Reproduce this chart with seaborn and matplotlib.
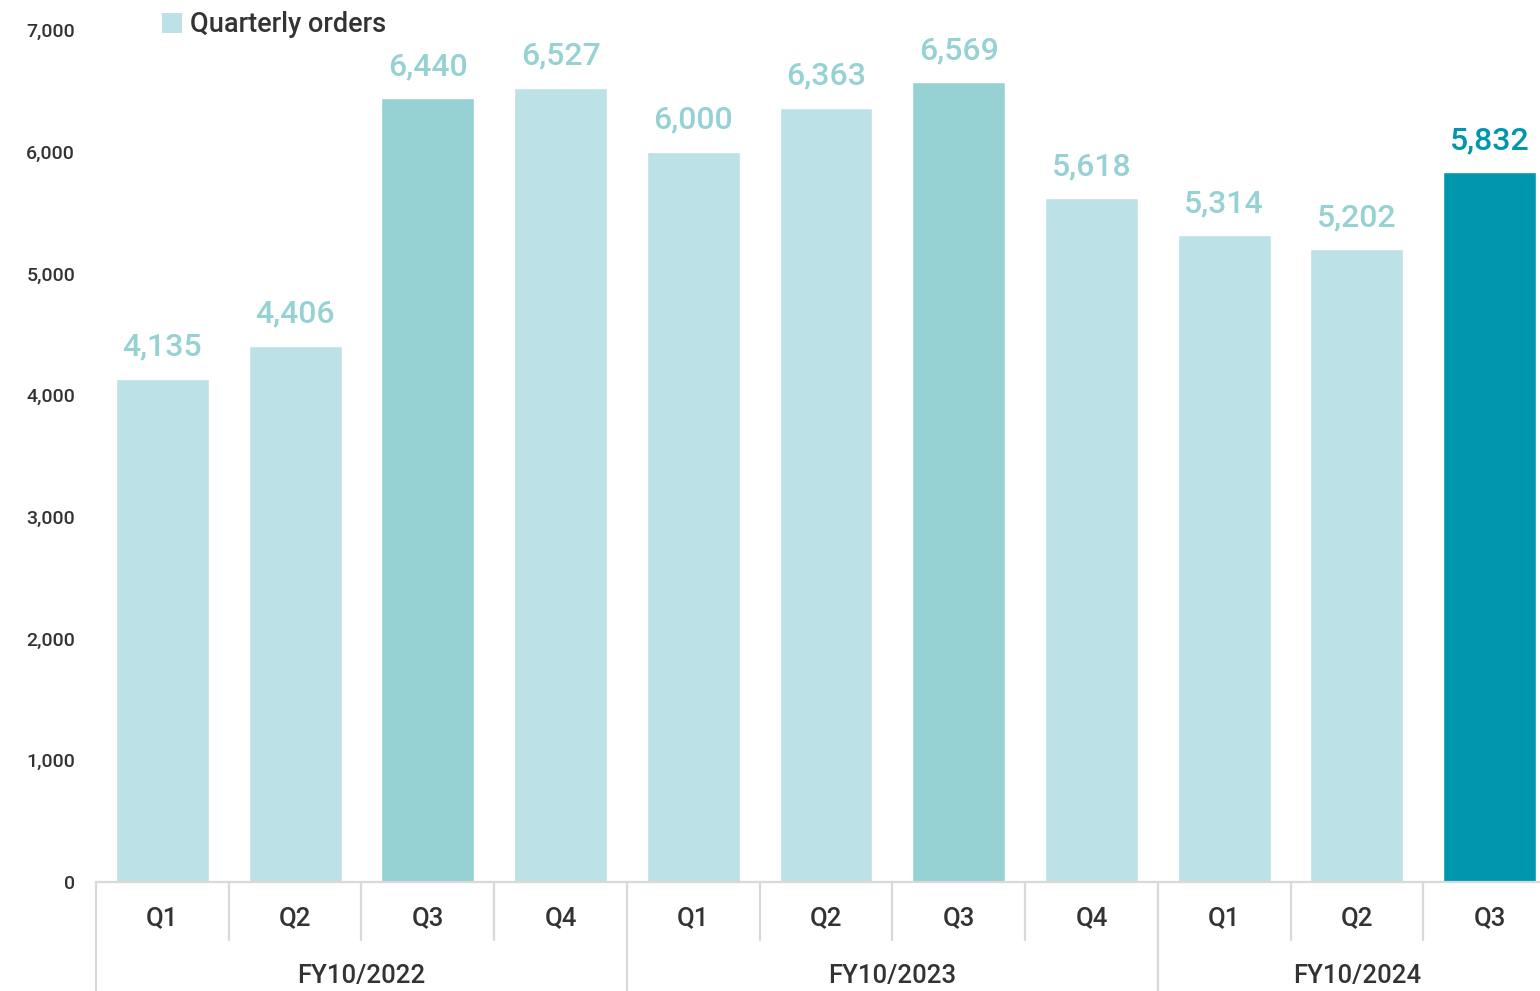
import matplotlib
matplotlib.use("Agg")
import matplotlib.pyplot as plt
import matplotlib.transforms as mtransforms
from matplotlib.patches import Patch
import seaborn as sns
import pandas as pd

# ---- data ----
fiscal_years = ["FY10/2022", "FY10/2023", "FY10/2024"]
quarters_per_year = [["Q1", "Q2", "Q3", "Q4"], ["Q1", "Q2", "Q3", "Q4"], ["Q1", "Q2", "Q3"]]
orders = [4135, 4406, 6440, 6527, 6000, 6363, 6569, 5618, 5314, 5202, 5832]
bar_kind = ["base", "base", "q3", "base", "base", "base", "q3", "base", "base", "base", "latest"]
legend_label = "Quarterly orders"
y_ticks = [0, 1000, 2000, 3000, 4000, 5000, 6000, 7000]

bar_colors = {"base": "#BCE1E7", "q3": "#96D1D3", "latest": "#0097AE"}
label_colors = {"base": "#96D1D3", "q3": "#96D1D3", "latest": "#0097AE"}

quarters = [q for qs in quarters_per_year for q in qs]
year_of = [fy for fy, qs in zip(fiscal_years, quarters_per_year) for _ in qs]
slot = [f"{fy} {q}" for fy, q in zip(year_of, quarters)]
df = pd.DataFrame({"slot": slot, "orders": orders, "kind": bar_kind})

sns.set_theme(style="white")
plt.rcParams["font.family"] = ["Lato", "DejaVu Sans"]
AX_FONT = ["Roboto", "DejaVu Sans"]

W, H = 1540, 991
fig = plt.figure(figsize=(W / 100, H / 100), dpi=100)
ax = fig.add_axes([96 / W, (H - 882) / H, (1556 - 96) / W, (882 - 30) / H])

sns.barplot(data=df, x="slot", y="orders", hue="kind", palette=bar_colors,
            dodge=False, legend=False, width=0.7, saturation=1, ax=ax)

ax.set_xlim(-0.5, len(orders) - 0.5)
ax.set_ylim(0, 7000)
ax.set_yticks(y_ticks)
ax.set_yticklabels([f"{v:,}" for v in y_ticks], color="#333333", fontsize=14,
                   fontweight="medium", family=AX_FONT)
ax.tick_params(axis="y", length=0, pad=15)
ax.set_xticks(range(len(quarters)))
ax.set_xticklabels(quarters, color="#333333", fontsize=18.5, fontweight="medium", family=AX_FONT)
ax.tick_params(axis="x", length=0, pad=17.5)
ax.set_xlabel("")
ax.set_ylabel("")
for s in ["left", "right", "top"]:
    ax.spines[s].set_visible(False)
ax.spines["bottom"].set_color("#D9D9D9")
ax.spines["bottom"].set_linewidth(1.6)
ax.grid(False)

# value labels
for i, (v, k) in enumerate(zip(orders, bar_kind)):
    ax.annotate(f"{v:,}", (i, v), xytext=(0, 16.5), textcoords="offset points",
                ha="center", va="baseline", fontsize=23, fontweight="medium",
                family=AX_FONT, color=label_colors[k])

# separators and group labels
trans = mtransforms.blended_transform_factory(ax.transData, ax.transAxes)
start = 0
group_edges = []
for fy, qs in zip(fiscal_years, quarters_per_year):
    n = len(qs)
    group_edges.append(start - 0.5)
    for j in range(1, n):
        xb = start + j - 0.5
        ax.plot([xb, xb], [0, -0.068], transform=trans, color="#D9D9D9", lw=1.6, clip_on=False)
    ax.text(start + (n - 1) / 2, -0.1105, fy, transform=trans, ha="center", va="center",
            fontsize=18.5, fontweight="medium", family=AX_FONT, color="#333333")
    start += n
group_edges.append(start - 0.5)
for xb in group_edges:
    ax.plot([xb, xb], [0, -0.14], transform=trans, color="#D9D9D9", lw=1.6, clip_on=False)

# legend
handle = Patch(facecolor=bar_colors["base"], edgecolor="none")
fig.legend([handle], [legend_label], loc="center left", bbox_to_anchor=(162 / W, (H - 25) / H),
           frameon=False, handlelength=0.72, handleheight=0.72, handletextpad=0.3,
           labelcolor="#333333", borderaxespad=0, borderpad=0,
           prop={"family": AX_FONT, "weight": "medium", "size": 19.5})

fig.savefig("out.png", dpi=100)
